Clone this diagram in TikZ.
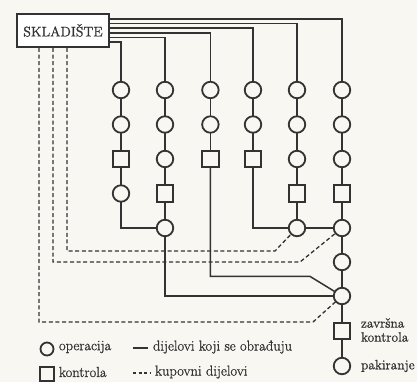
\documentclass[tikz,border=0pt]{standalone}
\usepackage{fontspec}
\setmainfont{Latin Modern Roman}
\newfontface\heavyfont{Latin Modern Roman}[FakeBold=1.0]
\definecolor{ink}{HTML}{333333}
\definecolor{paper}{HTML}{F8F7F2}
\begin{document}
\begin{tikzpicture}[x=1pt,y=-1pt,
  every node/.style={inner sep=0pt,outer sep=0pt},
  op/.style={circle,draw=ink,line width=1.8pt,minimum size=16.5pt,fill=paper},
  ctl/.style={rectangle,draw=ink,line width=1.8pt,minimum size=16.5pt,fill=paper},
  flow/.style={draw=ink,line width=1.5pt},
  bought/.style={draw=ink,line width=1.3pt,dash pattern=on 4pt off 2.6pt},
  lbl/.style={text=ink,font=\heavyfont\fontsize{14.5}{15}\selectfont,anchor=west},
  rlbl/.style={text=ink,font=\heavyfont\fontsize{13.5}{14}\selectfont,anchor=west,align=left}]
\fill[paper] (0,0) rectangle (417,382);
\useasboundingbox (0,0) rectangle (417,382);
% store
\node[draw=ink,line width=2.8pt,minimum width=92pt,minimum height=33pt,fill=white,
  font=\heavyfont\fontsize{14}{15}\selectfont,text=ink] (store) at (63,30.5) {SKLADIŠTE};
% dashed feeders start points
\coordinate (d1) at (39,48);
\coordinate (d2) at (53,48);
\coordinate (d3) at (67,48);
% column nodes
\foreach \n/\x in {1/121,2/165,3/210.4,4/253,5/297,6/342}{
  \node[op] (c\n r1) at (\x,90) {};
  \node[op] (c\n r2) at (\x,124.5) {};
}
\node[ctl] (c1r3) at (121,159) {};
\node[op]  (c2r3) at (165,159) {};
\node[ctl] (c3r3) at (210.4,159) {};
\node[ctl] (c4r3) at (253,159) {};
\node[op]  (c5r3) at (297,159) {};
\node[op]  (c6r3) at (342,159) {};
\node[op]  (c1r4) at (121,193.5) {};
\node[ctl] (c2r4) at (165,193.5) {};
\node[ctl] (c5r4) at (297,193.5) {};
\node[ctl] (c6r4) at (342,193.5) {};
\node[op]  (c2r5) at (165,228) {};
\node[op]  (c5r5) at (297,228) {};
\node[op]  (c6r5) at (342,228) {};
\node[op]  (c6r6) at (342,262) {};
\node[op]  (c6r7) at (342,296) {};
\node[ctl] (c6r8) at (342,331) {};
\node[op]  (c6r9) at (342,366) {};
% labels
\node[rlbl] (zk) at (361,330) {završna\\kontrola};
\node[rlbl] (pak) at (361,366) {pakiranje};
% feeds from the store
\draw[flow] (store.east |- 0,19) -| (c6r1);
\draw[flow] (store.east |- 0,23.6) -| (c5r1);
\draw[flow] (store.east |- 0,28.2) -| (c4r1);
\draw[flow] (store.east |- 0,32.8) -| (c3r1);
\draw[flow] (store.east |- 0,37.4) -| (c2r1);
\draw[flow] (store.east |- 0,42) -| (c1r1);
% column chains
\foreach \n in {1,2,3,4,5,6}{ \draw[flow] (c\n r1) -- (c\n r2); \draw[flow] (c\n r2) -- (c\n r3); }
\draw[flow] (c1r3) -- (c1r4);
\draw[flow] (c2r3) -- (c2r4);
\draw[flow] (c5r3) -- (c5r4);
\draw[flow] (c6r3) -- (c6r4);
\draw[flow] (c2r4) -- (c2r5);
\draw[flow] (c5r4) -- (c5r5);
\draw[flow] (c6r4) -- (c6r5);
\draw[flow] (c6r5) -- (c6r6);
\draw[flow] (c6r6) -- (c6r7);
\draw[flow] (c6r7) -- (c6r8);
\draw[flow] (c6r8) -- (c6r9);
% merges
\draw[flow] (c1r4) |- (c2r5);
\draw[flow] (c4r3) |- (c5r5);
\draw[flow] (c5r5) -- (c6r5);
\draw[flow] (c2r5) |- (c6r7);
\coordinate (s3) at (310,276.4);
\draw[flow] (c3r3) |- (s3) -- (c6r7);
% bought parts
\coordinate (k3) at (275,251);
\coordinate (k2) at (300,262);
\coordinate (k1) at (313,322);
\draw[bought] (d3) |- (k3) -- (c5r5);
\draw[bought] (d2) |- (k2) -- (c6r5);
\draw[bought] (d1) |- (k1) -- (c6r7);
% legend
\node[circle,draw=ink,line width=1.8pt,minimum size=13pt] (lgo) at (47,349) {};
\node[lbl] (lgot) at (59,347) {operacija};
\node[rectangle,draw=ink,line width=1.8pt,minimum size=14.5pt] (lgk) at (47,374) {};
\node[lbl] (lgkt) at (59,372) {kontrola};
\coordinate (ls1) at (133,348);
\coordinate (ls2) at (148,348);
\draw[flow] (ls1) -- (ls2);
\node[lbl] (lgst) at (153,347) {dijelovi koji se obrađuju};
\coordinate (lb1) at (133,373);
\coordinate (lb2) at (150,373);
\draw[draw=ink,line width=1.2pt,dash pattern=on 3pt off 2.5pt] (lb1) -- (lb2);
\node[lbl] (lgbt) at (155,372) {kupovni dijelovi};
\end{tikzpicture}
\end{document}
